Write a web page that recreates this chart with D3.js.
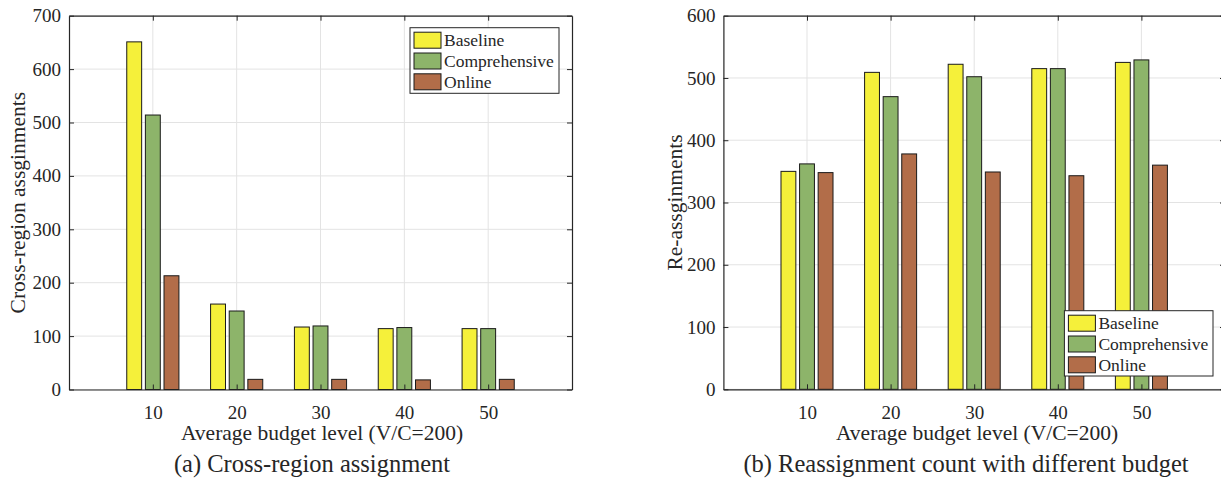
<!DOCTYPE html>
<html>
<head>
<meta charset="utf-8">
<script src="https://cdn.jsdelivr.net/npm/d3@7"></script>
<style>
  html, body { margin: 0; padding: 0; background: #fff; }
  svg { display: block; }
  text { font-family: "Liberation Serif", "Times New Roman", serif; fill: #262626; }
</style>
</head>
<body>
<svg id="chart" width="1221" height="478"></svg>
<script>
// ---- data ----
const categories = [10, 20, 30, 40, 50];
const seriesNames = ["Baseline", "Comprehensive", "Online"];
const seriesColors = ["#f5f03a", "#8db46a", "#b26d49"];

// (a) Cross-region assignment
const crossBaseline      = [651, 160, 117, 114, 114];
const crossComprehensive = [514, 147, 119, 116, 114];
const crossOnline        = [213, 19, 19, 18, 19];
const crossYTicks = [0, 100, 200, 300, 400, 500, 600, 700];

// (b) Reassignment count
const reBaseline      = [350, 509, 522, 515, 525];
const reComprehensive = [362, 470, 502, 515, 529];
const reOnline        = [348, 378, 349, 343, 360];
const reYTicks = [0, 100, 200, 300, 400, 500, 600];

const xTickLabels = ["10", "20", "30", "40", "50"];

const svg = d3.select("#chart");

function drawPanel(opt) {
  const {left, right, top, bottom, yMax, yTicks, series, ylabel, ylabelX,
         xlabelX, caption, legend} = opt;
  const g = svg.append("g");
  const x = d3.scaleLinear().domain([0, 60]).range([left, right]);
  const y = d3.scaleLinear().domain([0, yMax]).range([bottom, top]);
  const axisColor = "#262626";
  const gridColor = "#e3e3e3";

  // grid
  g.append("g").selectAll("line.gy").data(yTicks).join("line")
    .attr("x1", left).attr("x2", right)
    .attr("y1", d => y(d)).attr("y2", d => y(d))
    .attr("stroke", gridColor).attr("stroke-width", 1);
  g.append("g").selectAll("line.gx").data(categories).join("line")
    .attr("x1", d => x(d)).attr("x2", d => x(d))
    .attr("y1", top).attr("y2", bottom)
    .attr("stroke", gridColor).attr("stroke-width", 1);

  // bars
  const nb = series.length;
  const groupW = Math.min(0.8, nb / (nb + 1.5)) * 10;
  const barW = groupW / nb * 0.8;
  series.forEach((vals, si) => {
    const off = (si - (nb - 1) / 2) * groupW / nb;
    g.append("g").selectAll("rect").data(vals).join("rect")
      .attr("x", (d, i) => x(categories[i] + off - barW / 2))
      .attr("width", x(barW) - x(0))
      .attr("y", d => y(d))
      .attr("height", d => y(0) - y(d))
      .attr("fill", seriesColors[si])
      .attr("stroke", "#1a1a1a").attr("stroke-width", 1);
  });

  // axes (MATLAB-style box with inward ticks)
  const tickLen = 5;
  const axB = d3.axisBottom(x).tickValues(categories).tickFormat((d, i) => xTickLabels[i])
    .tickSizeInner(-tickLen).tickSizeOuter(0).tickPadding(16);
  const gb = g.append("g").attr("transform", `translate(0,${bottom})`).call(axB);
  const axT = d3.axisTop(x).tickValues(categories).tickFormat("")
    .tickSizeInner(-tickLen).tickSizeOuter(0);
  const gt = g.append("g").attr("transform", `translate(0,${top})`).call(axT);
  const axL = d3.axisLeft(y).tickValues(yTicks).tickFormat(d3.format("d"))
    .tickSizeInner(-tickLen).tickSizeOuter(0).tickPadding(8);
  const gl = g.append("g").attr("transform", `translate(${left},0)`).call(axL);
  const axR = d3.axisRight(y).tickValues(yTicks).tickFormat("")
    .tickSizeInner(-tickLen).tickSizeOuter(0);
  const gr = g.append("g").attr("transform", `translate(${right},0)`).call(axR);
  [gb, gt, gl, gr].forEach(a => {
    a.selectAll("path.domain").attr("stroke", axisColor).attr("stroke-width", 1.2);
    a.selectAll(".tick line").attr("stroke", axisColor).attr("stroke-width", 1);
    a.selectAll(".tick text").attr("fill", axisColor)
      .style("font-family", "'Liberation Serif', serif").style("font-size", "19px");
  });
  gb.selectAll(".tick text").attr("dy", "0.71em");

  // axis labels
  g.append("text").attr("x", xlabelX)
    .attr("y", 440).attr("text-anchor", "middle")
    .style("font-size", "21.5px").text("Average budget level (V/C=200)");
  g.append("text")
    .attr("transform", `translate(${ylabelX},${(top + bottom) / 2}) rotate(-90)`)
    .attr("text-anchor", "middle").style("font-size", "21.5px").text(ylabel);

  // caption
  g.append("text").attr("x", caption.x).attr("y", 472).attr("text-anchor", "middle")
    .style("font-size", "24.5px").text(caption.text);

  // legend
  const lg = g.append("g");
  lg.append("rect").attr("x", legend.x).attr("y", legend.y)
    .attr("width", legend.w).attr("height", legend.h)
    .attr("fill", "#fff").attr("stroke", axisColor).attr("stroke-width", 1);
  seriesNames.forEach((name, i) => {
    const cy = legend.y + 12.5 + i * 20.8;
    lg.append("rect").attr("x", legend.x + 4).attr("y", cy - 8)
      .attr("width", 27).attr("height", 16)
      .attr("fill", seriesColors[i]).attr("stroke", "#1a1a1a").attr("stroke-width", 1);
    lg.append("text").attr("x", legend.x + 34).attr("y", cy).attr("dy", "0.35em")
      .style("font-size", "17.5px").text(name);
  });
}

drawPanel({
  left: 69, right: 572, top: 15.7, bottom: 389.5, yMax: 700, yTicks: crossYTicks,
  series: [crossBaseline, crossComprehensive, crossOnline],
  ylabel: "Cross-region assginments", ylabelX: 25, xlabelX: 322,
  caption: {x: 312, text: "(a) Cross-region assignment"},
  legend: {x: 410, y: 27.7, w: 149, h: 65.6}
});

drawPanel({
  left: 723.4, right: 1225, top: 15.7, bottom: 389.3, yMax: 600, yTicks: reYTicks,
  series: [reBaseline, reComprehensive, reOnline],
  ylabel: "Re-assginments", ylabelX: 681.5, xlabelX: 977,
  caption: {x: 966, text: "(b) Reassignment count with different budget"},
  legend: {x: 1064.4, y: 310.7, w: 148.6, h: 65.3}
});
</script>
</body>
</html>
